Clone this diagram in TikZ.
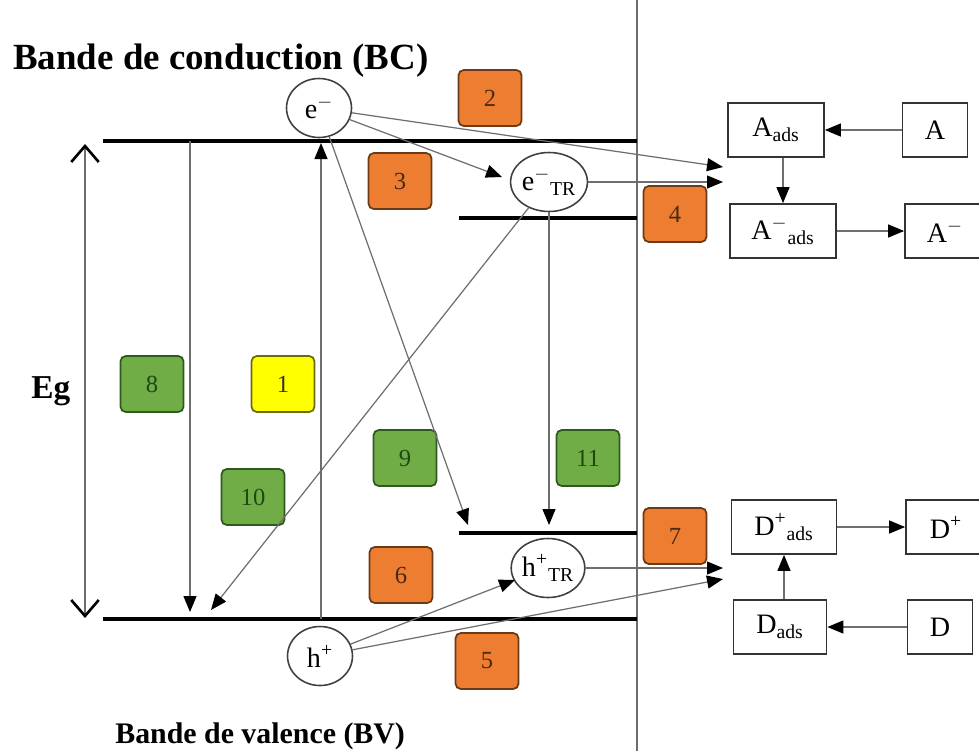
\documentclass[tikz,border=0pt]{standalone}
\usepackage{fontspec}
\setmainfont{Liberation Serif}
\usepackage{xcolor}
\usepackage{tikz}
\usetikzlibrary{shapes,arrows.meta,positioning,calc}
\definecolor{boxorange}{HTML}{ED7D31}
\definecolor{orangedark}{HTML}{6B3A16}
\definecolor{orangetext}{HTML}{4A2A10}
\definecolor{boxgreen}{HTML}{70AD47}
\definecolor{greendark}{HTML}{2F5A1E}
\definecolor{greentext}{HTML}{1E4A12}
\definecolor{boxyellow}{HTML}{FFFF00}
\definecolor{yellowdark}{HTML}{6B6B10}
\definecolor{linegray}{HTML}{6E6E6E}
\tikzset{
  band/.style={line width=2.6pt, black},
  arr/.style={draw=linegray, line width=0.7pt, -{Triangle[length=0.32cm,width=0.26cm,color=black]}},
  carrier/.style={ellipse, draw=black!75, line width=0.9pt, minimum width=1.3cm, minimum height=1.18cm, inner sep=0pt, font=\fontsize{16}{18}\selectfont},
  stepbase/.style={rounded corners=3pt, line width=1pt, minimum width=1.26cm, minimum height=1.12cm, font=\fontsize{14}{16}\selectfont},
  orangebox/.style={stepbase, fill=boxorange, draw=orangedark, text=orangetext},
  greenbox/.style={stepbase, fill=boxgreen, draw=greendark, text=greentext},
  yellowbox/.style={stepbase, fill=boxyellow, draw=yellowdark, text=black!80},
  species/.style={draw=black!80, line width=1pt, minimum height=1.08cm, inner sep=2pt, font=\fontsize{16}{18}\selectfont},
}

\begin{document}
\begin{tikzpicture}[x=0.02cm, y=-0.02cm]
	\useasboundingbox (0,0) rectangle (979,751);
	% titles
	\node[anchor=base west, font=\bfseries\fontsize{21}{24}\selectfont, inner sep=0pt] (titleBC) at (13,69) {Bande de conduction (BC)};
	\node[anchor=base west, font=\bfseries\fontsize{17}{20}\selectfont, inner sep=0pt] (titleBV) at (115,743) {Bande de valence (BV)};
	\node[anchor=base west, font=\bfseries\fontsize{19}{22}\selectfont, inner sep=0pt] (eg) at (31,398) {Eg};
	% surface (separation line)
	\coordinate (sepT) at (637,0);
	\coordinate (sepB) at (637,751);
	\draw[linegray, line width=0.9pt] (sepT) -- (sepB);
	% bands and trap levels
	\coordinate (bcL) at (103,141); \coordinate (bcR) at (637,141);
	\coordinate (bvL) at (103,619); \coordinate (bvR) at (637,619);
	\coordinate (teL) at (459,218); \coordinate (teR) at (637,218);
	\coordinate (thL) at (459,533); \coordinate (thR) at (637,533);
	\draw[band] (bcL) -- (bcR);
	\draw[band] (bvL) -- (bvR);
	\draw[band] (teL) -- (teR);
	\draw[band] (thL) -- (thR);
	% gap energy
	\coordinate (egT) at (85,144);
	\coordinate (egB) at (85,618);
	\draw[draw=linegray, line width=0.8pt, {Straight Barb[length=0.32cm,width=0.55cm,line width=1.5pt,color=black]}-{Straight Barb[length=0.32cm,width=0.55cm,line width=1.5pt,color=black]}] (egT) -- (egB);
	% charge carriers
	\node[carrier] (em) at (319,108) {e\textsuperscript{$-$}};
	\node[carrier] (etr) at (549,182) {e\textsuperscript{$-$}\textsubscript{TR}};
	\node[carrier] (htr) at (548,568) {h\textsuperscript{+}\textsubscript{TR}};
	\node[carrier] (hp) at (320,656) {h\textsuperscript{+}};
	% adsorbed species
	\node[species, minimum width=1.92cm] (aads) at (776,130) {A\textsubscript{ads}};
	\node[species, minimum width=1.3cm] (a) at (935,130) {A};
	\node[species, minimum width=2.12cm] (anads) at (783,231) {A\textsuperscript{$-$}\textsubscript{ads}};
	\node[species, minimum width=1.6cm] (an) at (945,231) {A\textsuperscript{$-$}};
	\node[species, minimum width=2.1cm] (dpads) at (784,527) {D\textsuperscript{+}\textsubscript{ads}};
	\node[species, minimum width=1.6cm] (dp) at (946,527) {D\textsuperscript{+}};
	\node[species, minimum width=1.86cm] (dads) at (780,627) {D\textsubscript{ads}};
	\node[species, minimum width=1.3cm] (d) at (940,627) {D};
	% numbered steps
	\node[yellowbox] (s1) at (283,384) {1};
	\node[orangebox] (s2) at (490,98) {2};
	\node[orangebox] (s3) at (400,181) {3};
	\node[orangebox] (s4) at (675,214) {4};
	\node[orangebox] (s5) at (487,661) {5};
	\node[orangebox] (s6) at (401,575) {6};
	\node[orangebox] (s7) at (675,536) {7};
	\node[greenbox] (s8) at (152,384) {8};
	\node[greenbox] (s9) at (405,458) {9};
	\node[greenbox] (s10) at (253,497) {10};
	\node[greenbox] (s11) at (588,458) {11};
	% arrow ends
	\coordinate (tA1) at (723,167); \coordinate (tA2) at (723,182);
	\coordinate (tD1) at (723,568); \coordinate (tD2) at (723,579);
	\coordinate (r8a) at (190,141); \coordinate (r8b) at (190,612);
	\coordinate (x1a) at (321,619); \coordinate (x1b) at (321,143);
	\coordinate (tTE) at (502,177);
	\coordinate (tTH) at (468,525);
	\coordinate (tTH2) at (549,525);
	\coordinate (tBV) at (211,610);
	\coordinate (tHTR) at (515,580);
	% excitation and recombinations
	\draw[arr] (x1a) -- (x1b);
	\draw[arr] (r8a) -- (r8b);
	\draw[arr] (etr) -- (tBV);
	\draw[arr] (em) -- (tTH);
	\draw[arr] (etr.south) -- (tTH2);
	% trapping and transfer
	\draw[arr] (em) -- (tA1);
	\draw[arr] (em) -- (tTE);
	\draw[arr] (etr.east) -- (tA2);
	\draw[arr] (hp) -- (tHTR);
	\draw[arr] (hp) -- (tD2);
	\draw[arr] (htr.east) -- (tD1);
	% surface reactions
	\draw[arr] (a) -- (aads);
	\draw[arr] (aads.south -| anads.north) -- (anads.north);
	\draw[arr] (anads) -- (an);
	\draw[arr] (d) -- (dads);
	\draw[arr] (dads.north -| dpads.south) -- (dpads.south);
	\draw[arr] (dpads) -- (dp);
\end{tikzpicture}
\end{document}
